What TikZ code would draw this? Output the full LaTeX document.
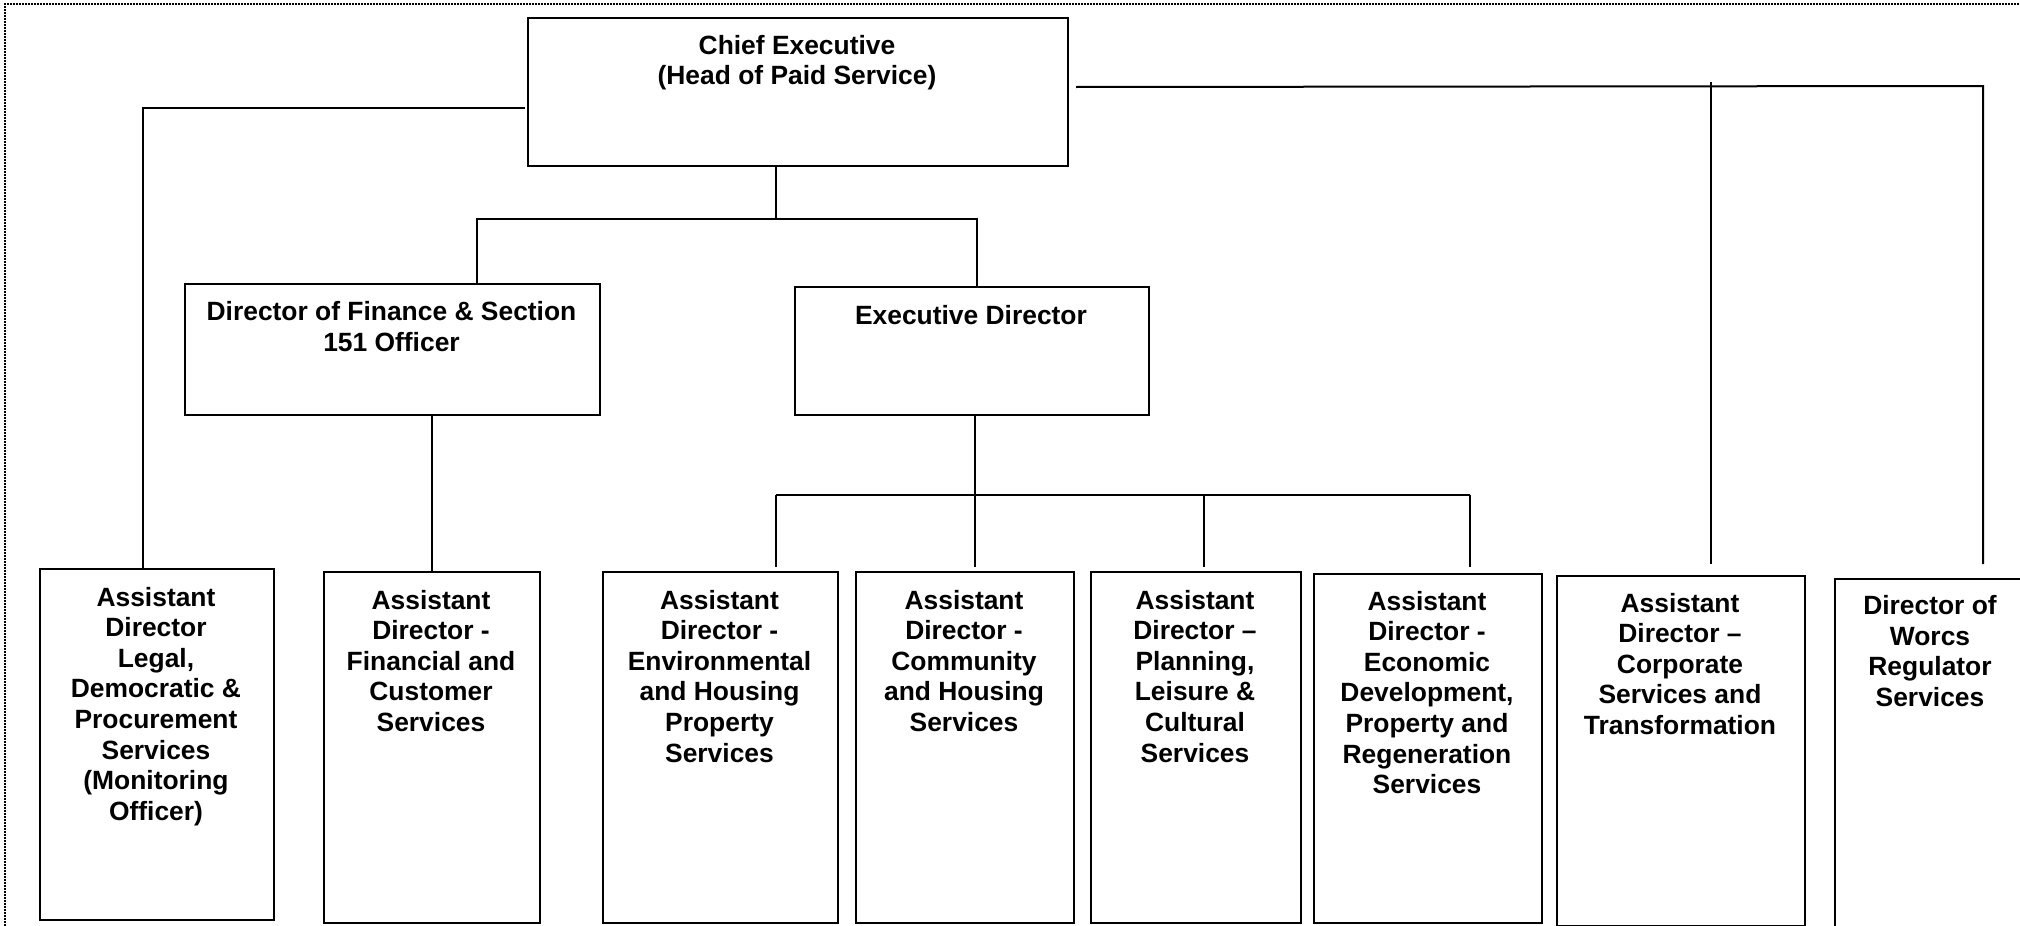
\documentclass[tikz,border=0pt]{standalone}
\usepackage{fontspec}
\setmainfont{Liberation Sans}
\begin{document}
\begin{tikzpicture}[x=0.5pt,y=-0.5pt,
  box/.style={draw, line width=1pt, inner sep=0pt, anchor=north west},
  lbl/.style={anchor=north, align=center, inner sep=0pt, font=\bfseries\fontsize{13.2}{15.3}\selectfont},
  conn/.style={line width=1pt}]
\useasboundingbox (0,0) rectangle (2020,926);
\draw[line width=0.9pt, dash pattern=on 0.9pt off 0.6pt] (5,926) -- (5,4) -- (2020,4);

% boxes
\node[box, minimum width=270pt, minimum height=74pt] (chief) at (527,17) {};
\node[box, minimum width=207.5pt, minimum height=65.5pt] (fin) at (184,283) {};
\node[box, minimum width=177pt, minimum height=64pt] (exec) at (794,286) {};
\node[box, minimum width=117pt, minimum height=175.5pt] (legal) at (39,568) {};
\node[box, minimum width=108pt, minimum height=175.5pt] (afin) at (323,571) {};
\node[box, minimum width=117.5pt, minimum height=175.5pt] (env) at (602,571) {};
\node[box, minimum width=109pt, minimum height=175.5pt] (comm) at (855,571) {};
\node[box, minimum width=105pt, minimum height=175.5pt] (plan) at (1090,571) {};
\node[box, minimum width=114pt, minimum height=174.5pt] (econ) at (1313,573) {};
\node[box, minimum width=124pt, minimum height=175pt] (corp) at (1556,575) {};
\node[box, minimum width=125pt, minimum height=180pt] (worcs) at (1834,578) {};

% labels
\node[lbl] (chief-t) at (797,34.5) {Chief Executive\\(Head of Paid Service)};
\node[lbl] (fin-t) at (391.5,301) {Director of Finance \& Section\\151 Officer};
\node[lbl] (exec-t) at (971,304.5) {Executive Director};
\node[lbl] (legal-t) at (156,586.5) {Assistant\\Director\\Legal,\\Democratic \&\\Procurement\\Services\\(Monitoring\\Officer)};
\node[lbl] (afin-t) at (431,589.5) {Assistant\\Director -\\Financial and\\Customer\\Services};
\node[lbl] (env-t) at (719.5,589.5) {Assistant\\Director -\\Environmental\\and Housing\\Property\\Services};
\node[lbl] (comm-t) at (964,589.5) {Assistant\\Director -\\Community\\and Housing\\Services};
\node[lbl] (plan-t) at (1195,589.5) {Assistant\\Director --\\Planning,\\Leisure \&\\Cultural\\Services};
\node[lbl] (econ-t) at (1427,590.5) {Assistant\\Director -\\Economic\\Development,\\Property and\\Regeneration\\Services};
\node[lbl] (corp-t) at (1680,592.5) {Assistant\\Director --\\Corporate\\Services and\\Transformation};
\node[lbl] (worcs-t) at (1930,595) {Director of\\Worcs\\Regulator\\Services};

% junction coordinates
\coordinate (rjoin) at (1711,86);
\coordinate (rend) at (1983,86);
\coordinate (cj) at (776,219);
\coordinate (fj) at (477,219);
\coordinate (ej) at (977,219);
\coordinate (b0) at (776,495);
\coordinate (b1) at (975,495);
\coordinate (b2) at (1204,495);
\coordinate (b3) at (1470,495);

% connectors
\draw[conn] (chief.west) ++(-2,16) -| ([xshift=-7pt]legal.north);
\draw[conn] (chief.east) ++(7,-5) -- (rend) -- ([yshift=7pt]rend |- worcs.north);
\draw[conn] ([yshift=2pt]rjoin) -- ([yshift=5.5pt]rjoin |- corp.north);
\draw[conn] (cj |- chief.south) -- (cj);
\draw[conn] (fin.north -| fj) -- (fj) -- (ej) -- (ej |- exec.north);
\draw[conn] (afin.north) -- (afin.north |- fin.south);
\draw[conn] (b1 |- exec.south) -- (b1);
\draw[conn] (b0) -- (b3);
\draw[conn] (b0) -- ([yshift=2pt]b0 |- env.north);
\draw[conn] (b1) -- ([yshift=2pt]b1 |- comm.north);
\draw[conn] (b2) -- ([yshift=2pt]b2 |- plan.north);
\draw[conn] (b3) -- ([yshift=3pt]b3 |- econ.north);
\end{tikzpicture}
\end{document}
